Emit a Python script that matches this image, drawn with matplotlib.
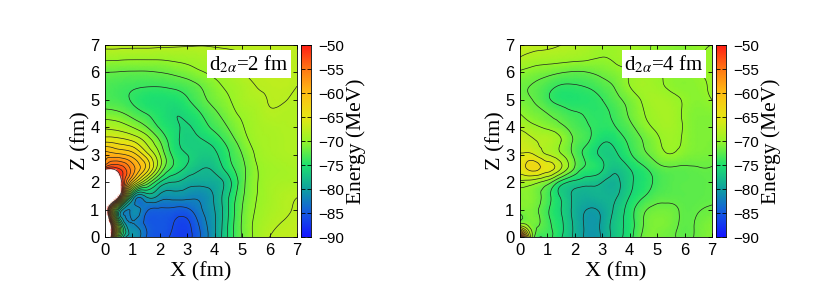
#!/usr/bin/env python

import numpy as np
import matplotlib
matplotlib.use('Agg')
import matplotlib.pyplot as plt
import matplotlib.tri as mtri
from matplotlib.colors import LinearSegmentedColormap

x_grid = [0, 0.5, 1, 1.5, 2, 2.5, 3, 3.5, 4, 4.5, 5, 5.5, 6, 6.5, 7]
z_grid = [0, 0.5, 1, 1.5, 2, 2.5, 3, 3.5, 4, 4.5, 5, 5.5, 6, 6.5, 7]

# energy in MeV, one row per z value, from z=0 upward
energy_d2 = [
    [-25, -72, -81, -84, -85.5, -86.5, -86.8, -83.8, -80.2, -75.6, -71.9, -69.5, -68, -67.5, -67.2],
    [-28, -72, -82, -84.5, -85.2, -86, -86.4, -83.3, -80.2, -75.8, -71.8, -69.6, -68.5, -67.9, -67.5],
    [-40, -76, -81.5, -83.5, -84.3, -84.5, -84.4, -82.2, -80, -76, -72, -69.9, -68.9, -68.3, -67.8],
    [-20, -48, -77, -79.5, -80.5, -81, -81.3, -81.5, -79.7, -76.2, -72.4, -70.1, -69.1, -68.4, -68.05],
    [-20, -45, -62, -70, -76, -78, -79, -79.3, -79, -76.8, -72.8, -70.2, -69.2, -68.9, -68.7],
    [-52, -52, -57, -62.5, -70, -74.5, -76.5, -77.9, -77.5, -75, -72.6, -70.2, -69.4, -69.1, -68.9],
    [-59, -59.5, -61, -65, -70, -74.5, -76, -76.8, -76.4, -74.2, -72, -69.8, -69, -68.7, -68.6],
    [-64.5, -65, -66, -68.5, -72, -75.2, -76.5, -76.2, -75.2, -73.2, -71, -69.3, -68.9, -68.6, -68.5],
    [-68.3, -68.8, -70, -71.8, -74.2, -75.5, -76.2, -75, -73.5, -71.9, -70.2, -69.1, -68.7, -68.5, -68.4],
    [-71.2, -71.6, -72.8, -74, -75, -75.9, -75.4, -74, -72.4, -70.9, -69.6, -68.9, -68.2, -68.3, -68.3],
    [-73, -73.4, -74.2, -75, -75.3, -75.2, -74.2, -72.7, -71.3, -70.2, -69, -68.5, -67.9, -67.9, -68.3],
    [-73, -73.4, -73.7, -73.9, -73.9, -73.6, -73, -71.9, -70.6, -69.6, -68.8, -68, -67.7, -67.6, -68],
    [-72, -72.1, -72.2, -72.2, -72, -71.6, -71, -70.2, -69.5, -68.9, -68.1, -67.8, -67.6, -67.5, -67.8],
    [-69.6, -69.7, -69.8, -69.8, -69.8, -69.6, -69.4, -69.1, -68.8, -68.5, -68.1, -67.9, -67.8, -67.7, -67.7],
    [-67.4, -67.4, -67.5, -67.5, -67.6, -67.7, -67.8, -67.9, -67.8, -67.7, -67.6, -67.5, -67.4, -67.3, -67.2],
]
energy_d4 = [
    [-48, -71.6, -73.6, -75.8, -78.5, -80.6, -79.7, -76.9, -74.8, -71.5, -71.2, -71.7, -72.4, -71.6, -70.8],
    [-70.6, -71.4, -73.4, -75.6, -78.5, -80.5, -79.6, -77, -75, -72, -71, -71.4, -72.3, -71.7, -71],
    [-71, -71.3, -73.7, -76, -78.7, -80.1, -79.5, -77.5, -75, -72.4, -71.5, -71.6, -72.3, -72.1, -71.8],
    [-70.8, -71, -73.2, -76.3, -78.4, -78.8, -78.5, -78.2, -76, -74.2, -72.8, -72.5, -72.5, -72.4, -72.2],
    [-68.5, -69.2, -71, -74.8, -76.6, -77.3, -78, -78.5, -76.5, -75, -73.5, -72.7, -72.5, -72.4, -72.3],
    [-65, -63.3, -65, -68, -72.3, -74.5, -75.8, -77.5, -76, -74.4, -72.8, -72.2, -72.3, -72.1, -72.1],
    [-65.8, -65.9, -68, -69.8, -72.6, -74.8, -76.4, -76.3, -74.3, -72.5, -71, -70.1, -70.8, -71.2, -71.4],
    [-66.5, -67.8, -68.4, -70, -72.4, -73.9, -75.7, -75.2, -73.6, -71.9, -70.4, -69.5, -70.3, -71, -71.1],
    [-68.4, -69.5, -70.4, -71.5, -73, -73.9, -74.5, -74, -72.6, -70.8, -69.6, -69.2, -70.2, -71, -71],
    [-70, -71.2, -72, -73, -73.8, -74.3, -74.4, -73.4, -71.7, -70.1, -69.2, -69.1, -70.3, -70.9, -70.8],
    [-71.5, -72.1, -73.6, -74.7, -74.9, -74.7, -74, -72.6, -71.2, -69.7, -69, -69.4, -70.2, -70.6, -70],
    [-71.6, -72.2, -73.2, -74.2, -74.2, -73.8, -72.9, -71.7, -70, -69.2, -69.6, -70.3, -70.6, -70.4, -69.8],
    [-70.3, -70.9, -71.4, -71.9, -72.2, -72, -71.4, -70.7, -69.9, -69.4, -69.8, -70.3, -70.5, -70.1, -69.8],
    [-68.2, -68.9, -69.1, -69.3, -69.5, -69.8, -70.1, -69.7, -69.4, -69.6, -70.2, -70.5, -70.6, -70.1, -69.9],
    [-67, -67.3, -67.6, -68, -68.5, -69, -69.7, -69.7, -69.5, -69.7, -70.2, -70.5, -70.6, -70.2, -70],
]
xz_ticks = [0, 1, 2, 3, 4, 5, 6, 7]
cbar_ticks = [-50, -55, -60, -65, -70, -75, -80, -85, -90]

W, H = 830, 291
serif = 'Liberation Serif'
sans = 'Liberation Sans'
plt.rcParams['mathtext.fontset'] = 'stix'

palette = [(0.00, '#1414ff'), (0.125, '#145ae1'), (0.25, '#0fa0a0'), (0.375, '#1ee16e'),
           (0.50, '#96f528'), (0.625, '#e6e614'), (0.75, '#ffbe14'), (0.875, '#ff7814'),
           (1.00, '#ff1e14')]
cmap = LinearSegmentedColormap.from_list('energy', palette, N=256)
cmap.set_over('white')


def px_axes(fig, x0, x1, y0, y1):
    return fig.add_axes([x0 / W, 1 - y1 / H, (x1 - x0) / W, (y1 - y0) / H])


def panel(fig, energy, x0, label, box_x):
    ax = px_axes(fig, x0, x0 + 192, 45, 237)
    xs, zs = np.meshgrid(x_grid, z_grid)
    tri = mtri.Triangulation(xs.ravel(), zs.ravel())
    refiner = mtri.UniformTriRefiner(tri)
    fine_tri, fine_e = refiner.refine_field(np.array(energy, dtype=float).ravel(), subdiv=3)
    ax.tripcolor(fine_tri, fine_e, shading='gouraud', cmap=cmap, vmin=-90, vmax=-50, rasterized=True)
    ax.tricontour(fine_tri, fine_e, levels=np.arange(-90, -48, 2), colors='#222222', linewidths=0.5, linestyles='solid')
    ax.set_xlim(0, 7)
    ax.set_ylim(0, 7)
    ax.set_xticks(xz_ticks)
    ax.set_yticks(xz_ticks)
    ax.tick_params(direction='in', top=True, right=True, length=3, width=0.6, pad=4, labelsize=12)
    for lab in ax.get_xticklabels() + ax.get_yticklabels():
        lab.set_family(sans)
    for s in ax.spines.values():
        s.set_linewidth(0.6)
    ax.set_xlabel('X (fm)', family=serif, fontsize=16, labelpad=3)
    ax.set_ylabel('Z (fm)', family=serif, fontsize=16, labelpad=0)
    ax.text(box_x / W, 1 - 64 / H, label, transform=fig.transFigure, family=serif, fontsize=15,
            math_fontfamily='stix', ha='center', va='center',
            bbox=dict(fc='white', ec='none', pad=2), zorder=5)

    cax = px_axes(fig, x0 + 196, x0 + 206, 45, 237)
    grad = np.linspace(-90, -50, 256).reshape(-1, 1)
    cax.imshow(grad, origin='lower', aspect='auto', cmap=cmap, vmin=-90, vmax=-50, extent=[0, 1, -90, -50])
    cax.set_xticks([])
    cax.set_yticks(cbar_ticks)
    cax.yaxis.tick_right()
    cax.tick_params(direction='in', left=True, right=True, length=3, width=0.6, pad=5, labelsize=11)
    for lab in cax.get_yticklabels():
        lab.set_family(sans)
    for s in cax.spines.values():
        s.set_linewidth(0.6)
    cax.yaxis.set_label_position('right')
    cax.set_ylabel('Energy (MeV)', family=serif, fontsize=15.5, labelpad=2)


fig = plt.figure(figsize=(W / 100, H / 100), dpi=100)
panel(fig, energy_d2, 105, r'd$_{2\alpha}$=2 fm', 249)
panel(fig, energy_d4, 520, r'd$_{2\alpha}$=4 fm', 664)
fig.savefig('out.png', dpi=100)
